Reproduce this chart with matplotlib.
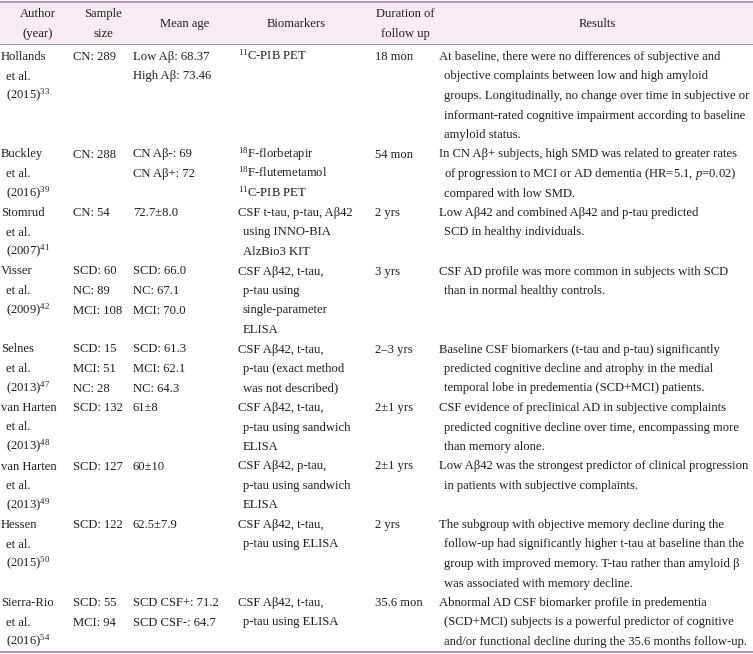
import matplotlib
matplotlib.use('Agg')
import matplotlib.pyplot as plt

plt.rcParams['font.family'] = ['Liberation Serif', 'DejaVu Serif']
plt.rcParams['mathtext.fontset'] = 'custom'
plt.rcParams['mathtext.rm'] = 'Liberation Serif'
plt.rcParams['mathtext.it'] = 'Liberation Serif:italic'

headers = [["Author", "(year)"], ["Sample", "size"], ["Mean age"],
           ["Biomarkers"], ["Duration of", "follow up"], ["Results"]]

# lines starting with a space are wrapped continuation lines (indented)
authors = [
    ["Hollands", " et al.", " (2015)$^{33}$"],
    ["Buckley", " et al.", " (2016)$^{39}$"],
    ["Stomrud", " et al.", " (2007)$^{41}$"],
    ["Visser", " et al.", " (2009)$^{42}$"],
    ["Selnes", " et al.", " (2013)$^{47}$"],
    ["van Harten", " et al.", " (2013)$^{48}$"],
    ["van Harten", " et al.", " (2013)$^{49}$"],
    ["Hessen", " et al.", " (2015)$^{50}$"],
    ["Sierra-Rio", " et al.", " (2016)$^{54}$"],
]
sample_sizes = [
    ["CN: 289"], ["CN: 288"], ["CN: 54"],
    ["SCD: 60", "NC: 89", "MCI: 108"],
    ["SCD: 15", "MCI: 51", "NC: 28"],
    ["SCD: 132"], ["SCD: 127"], ["SCD: 122"],
    ["SCD: 55", "MCI: 94"],
]
mean_ages = [
    ["Low Aβ: 68.37", "High Aβ: 73.46"],
    ["CN Aβ-: 69", "CN Aβ+: 72"],
    ["72.7±8.0"],
    ["SCD: 66.0", "NC: 67.1", "MCI: 70.0"],
    ["SCD: 61.3", "MCI: 62.1", "NC: 64.3"],
    ["61±8"], ["60±10"], ["62.5±7.9"],
    ["SCD CSF+: 71.2", "SCD CSF-: 64.7"],
]
biomarkers = [
    ["$^{11}$C-PIB PET"],
    ["$^{18}$F-florbetapir", "$^{18}$F-flutemetamol", "$^{11}$C-PIB PET"],
    ["CSF t-tau, p-tau, Aβ42", " using INNO-BIA", " AlzBio3 KIT"],
    ["CSF Aβ42, t-tau,", " p-tau using", " single-parameter", " ELISA"],
    ["CSF Aβ42, t-tau,", " p-tau (exact method", " was not described)"],
    ["CSF Aβ42, t-tau,", " p-tau using sandwich", " ELISA"],
    ["CSF Aβ42, p-tau,", " p-tau using sandwich", " ELISA"],
    ["CSF Aβ42, t-tau,", " p-tau using ELISA"],
    ["CSF Aβ42, t-tau,", " p-tau using ELISA"],
]
durations = [["18 mon"], ["54 mon"], ["2 yrs"], ["3 yrs"], ["2–3 yrs"],
             ["2±1 yrs"], ["2±1 yrs"], ["2 yrs"], ["35.6 mon"]]
results = [
    ["At baseline, there were no differences of subjective and",
     " objective complaints between low and high amyloid",
     " groups. Longitudinally, no change over time in subjective or",
     " informant-rated cognitive impairment according to baseline",
     " amyloid status."],
    ["In CN Aβ+ subjects, high SMD was related to greater rates",
     " of progression to MCI or AD dementia (HR=5.1, $\\mathit{p}$=0.02)",
     " compared with low SMD."],
    ["Low Aβ42 and combined Aβ42 and p-tau predicted",
     " SCD in healthy individuals."],
    ["CSF AD profile was more common in subjects with SCD",
     " than in normal healthy controls."],
    ["Baseline CSF biomarkers (t-tau and p-tau) significantly",
     " predicted cognitive decline and atrophy in the medial",
     " temporal lobe in predementia (SCD+MCI) patients."],
    ["CSF evidence of preclinical AD in subjective complaints",
     " predicted cognitive decline over time, encompassing more",
     " than memory alone."],
    ["Low Aβ42 was the strongest predictor of clinical progression",
     " in patients with subjective complaints."],
    ["The subgroup with objective memory decline during the",
     " follow-up had significantly higher t-tau at baseline than the",
     " group with improved memory. T-tau rather than amyloid β",
     " was associated with memory decline."],
    ["Abnormal AD CSF biomarker profile in predementia",
     " (SCD+MCI) subjects is a powerful predictor of cognitive",
     " and/or functional decline during the 35.6 months follow-up."],
]

columns = [authors, sample_sizes, mean_ages, biomarkers, durations, results]
col_x = [1, 73, 133, 238, 375, 439]
head_x = [38, 103, 185, 296, 405, 597]

W, H = 753, 654
fig = plt.figure(figsize=(W / 100, H / 100), dpi=100)
ax = fig.add_axes([0, 0, 1, 1])
ax.set_xlim(0, W)
ax.set_ylim(H, 0)
ax.axis('off')

txt = '#231f20'
fs = 9.05
ax.axhspan(1.5, 44, color='#f6edf4', zorder=0)
ax.axhline(1.5, color='#c596c0', lw=1.5)
ax.axhline(44, color='#8a7f88', lw=0.6)
ax.axhline(651.5, color='#c596c0', lw=1.5)

for hx, lines in zip(head_x, headers):
    ys = [23] if len(lines) == 1 else [13, 33]
    for y, s in zip(ys, lines):
        ax.text(hx, y + 4, s, ha='center', va='baseline', fontsize=fs, color=txt)

y0, step, indent = 56, 19.5, 5
y = y0
for i in range(len(authors)):
    nrows = max(len(c[i]) for c in columns)
    for cx, col in zip(col_x, columns):
        for j, s in enumerate(col[i]):
            dx = indent if s.startswith(' ') else 0
            ax.text(cx + dx, y + j * step + 4, s.strip(), ha='left', va='baseline',
                    fontsize=fs, color=txt)
    y += nrows * step

fig.savefig('out.png', dpi=100)
